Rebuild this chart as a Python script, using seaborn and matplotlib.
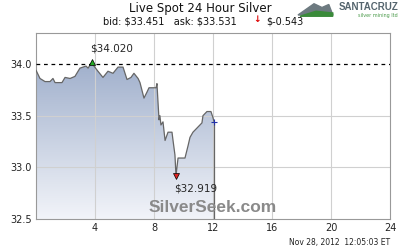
import numpy as np
import pandas as pd
import matplotlib
matplotlib.use("Agg")
import matplotlib.pyplot as plt
import seaborn as sns
from matplotlib.patches import Polygon

hours = [0.00, 0.27, 0.61, 0.95, 1.15, 1.29, 1.76, 1.97, 2.31, 2.64, 2.98, 3.39, 3.53,
         3.80, 3.93, 4.20, 4.54, 4.88, 5.22, 5.56, 5.90, 6.17, 6.44, 6.64, 6.92, 7.05,
         7.32, 7.53, 7.66, 8.14, 8.20, 8.34, 8.40, 8.47, 8.61, 8.75, 8.95, 9.22, 9.29,
         9.42, 9.49, 9.63, 10.10, 10.31, 10.44, 10.64, 10.98, 11.25, 11.32, 11.59,
         11.86, 12.00, 12.07]
prices = [33.94, 33.86, 33.83, 33.83, 33.86, 33.82, 33.82, 33.87, 33.86, 33.88, 33.96,
          33.98, 33.96, 34.02, 33.98, 33.93, 33.87, 33.93, 33.91, 33.97, 33.97, 33.85,
          33.87, 33.91, 33.86, 33.82, 33.67, 33.73, 33.77, 33.77, 33.81, 33.46, 33.50,
          33.41, 33.44, 33.26, 33.34, 33.34, 33.26, 33.12, 32.92, 33.09, 33.09, 33.21,
          33.29, 33.34, 33.39, 33.43, 33.50, 33.54, 33.54, 33.48, 33.44]
x_ticks = [4, 8, 12, 16, 20, 24]
y_ticks = [32.5, 33.0, 33.5, 34.0]
ref_level = 34.0
max_label = "$34.020"
min_label = "$32.919"
title = "Live Spot 24 Hour Silver"
bid_text = "bid: $33.451   ask: $33.531"
change_text = "$-0.543"
stamp = "Nov 28, 2012  12:05:03 ET"

df = pd.DataFrame({"hour": hours, "price": prices})

sns.set_style("white")
plt.rcParams["font.family"] = ["DejaVu Sans"]
plt.rcParams["text.parse_math"] = False

fig = plt.figure(figsize=(4, 2.5), dpi=100)
ax = fig.add_axes([0.09, 0.124, 0.885, 0.744])
ax.set_xlim(0, 24)
ax.set_ylim(32.5, 34.3)

# gradient fill under the line
poly = ax.fill_between(df["hour"], df["price"], 32.5, color="none")
grad = np.linspace(0, 1, 256).reshape(-1, 1)
cmap = matplotlib.colors.LinearSegmentedColormap.from_list(
    "g", ["#f2f4f9", "#9eaecb"])
im = ax.imshow(grad, extent=[0, 24, 32.5, 34.05], origin="lower", aspect="auto",
               cmap=cmap, zorder=1)
im.set_clip_path(poly.get_paths()[0], transform=ax.transData)

sns.lineplot(data=df, x="hour", y="price", ax=ax, color="#666666", lw=0.9, zorder=3)
ax.vlines(df["hour"].iloc[-1], 32.5, df["price"].iloc[-1], color="#666666", lw=0.9, zorder=3)

# grid
for xt in x_ticks[:-1]:
    ax.axvline(xt, color="#d0d0d0", lw=0.8, zorder=2)
for yt in y_ticks[1:3]:
    ax.axhline(yt, color="#d0d0d0", lw=0.8, zorder=2)
ax.axhline(ref_level, color="black", lw=0.9, ls=(0, (3, 3)), zorder=4)

# markers
imax = int(np.argmax(prices))
imin = int(np.argmin(prices))
ax.plot(hours[imax], prices[imax], marker="^", color="#22aa22", mec="black", mew=0.5, ms=4, zorder=5)
ax.text(hours[imax] - 0.15, prices[imax] + 0.08, max_label, fontsize=7.5, ha="left", va="bottom", zorder=5)
ax.plot(hours[imin], prices[imin], marker="v", color="#dd2222", mec="black", mew=0.5, ms=4, zorder=5)
ax.text(hours[imin] - 0.1, prices[imin] - 0.08, min_label, fontsize=7.5, ha="left", va="top", zorder=5)
ax.plot(hours[-1], prices[-1], marker="+", color="#2233aa", ms=4, mew=0.8, zorder=5)

ax.set_xticks(x_ticks)
ax.set_yticks(y_ticks)
ax.set_xticklabels([str(t) for t in x_ticks])
ax.set_yticklabels([f"{t:.1f}" for t in y_ticks])
ax.tick_params(labelsize=7, length=0, pad=3, colors="#222222")
ax.set_xlabel("")
ax.set_ylabel("")
for s in ax.spines.values():
    s.set_color("#999999")
    s.set_linewidth(0.8)

# watermark
ax.text(0.5, 0.02, "SilverSeek.com", transform=ax.transAxes, ha="center", va="bottom",
        fontsize=12.5, fontweight="bold", color="#8a8a8a", family="Liberation Sans", zorder=6)

# titles
fig.text(0.5, 0.965, title, ha="center", va="center", fontsize=8.5, color="#111111")
fig.text(0.425, 0.915, bid_text, ha="center", va="center", fontsize=7, color="#111111")
fig.text(0.643, 0.922, "\u2193", ha="center", va="center", fontsize=6.5, color="#dd0000", fontweight="bold")
fig.text(0.665, 0.915, change_text, ha="left", va="center", fontsize=7, color="#111111")
fig.text(0.975, 0.03, stamp, ha="right", va="center", fontsize=5.5, color="#222222")

# logo
fig.add_artist(Polygon([[0.745, 0.94], [0.785, 0.985], [0.805, 0.97], [0.822, 0.982],
                        [0.832, 0.94]], closed=True, transform=fig.transFigure,
                       color="#6d7a80"))
fig.add_artist(Polygon([[0.75, 0.935], [0.832, 0.935], [0.832, 0.948], [0.79, 0.955]],
                       closed=True, transform=fig.transFigure, color="#3a8a3a"))
fig.text(0.995, 0.97, "SANTACRUZ", ha="right", va="center", fontsize=7,
         fontweight="bold", color="#55656e", family="Liberation Sans")
fig.text(0.995, 0.938, "silver mining ltd", ha="right", va="center", fontsize=3.5,
         color="#4a9a4a")

fig.savefig("out.png", dpi=100)
